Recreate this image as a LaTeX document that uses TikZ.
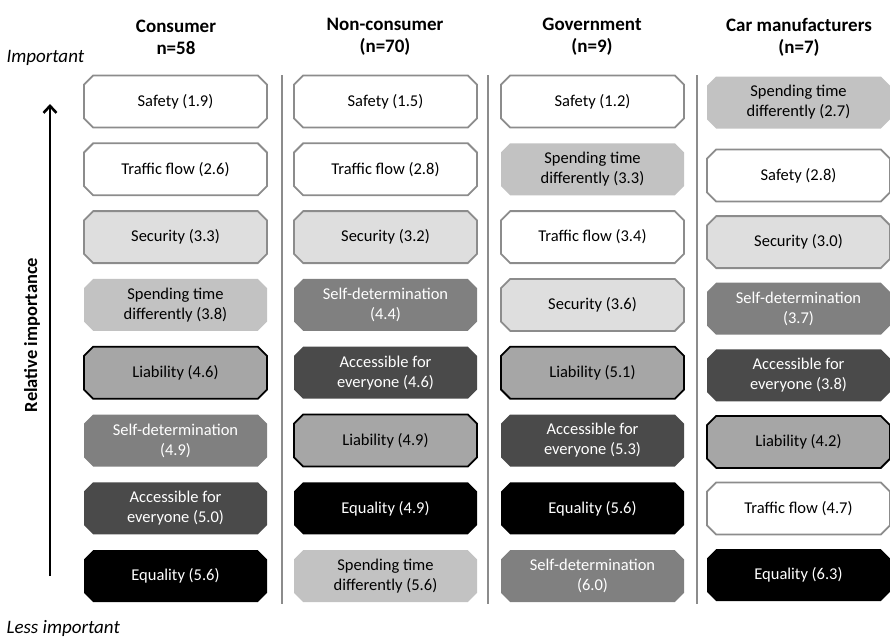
\documentclass[tikz,border=0pt]{standalone}
\usepackage{fontspec}
\setmainfont{Carlito}
\usetikzlibrary{positioning,shapes.misc,arrows.meta}
\definecolor{rule gray}{HTML}{8C8C8C}
\tikzset{
  value box/.style={
    chamfered rectangle,
    chamfered rectangle xsep=6pt,
    minimum width=183pt,
    minimum height=52pt,
    inner sep=1pt,
    outer sep=0pt,
    align=center,
    line width=1.8pt,
    font=\fontsize{16.5}{20}\selectfont,
  },
  open box/.style={value box, fill=white, draw=rule gray},
  pale box/.style={value box, fill=black!13, draw=rule gray},
  light box/.style={value box, fill=black!24},
  framed box/.style={value box, fill=black!35, draw=black},
  mid box/.style={value box, fill=black!50, text=white},
  dark box/.style={value box, fill=black!71, text=white},
  black box/.style={value box, fill=black, text=white},
  header/.style={
    align=center,
    font=\bfseries\fontsize{19}{22}\selectfont,
  },
  end label/.style={
    anchor=west,
    font=\itshape\fontsize{19}{22}\selectfont,
  }
}

\begin{document}
\begin{tikzpicture}[x=1pt, y=-1pt, node distance=15.8pt]
        \useasboundingbox (0,0) rectangle (890,638);

        \node [header] (hc) at (176,37) {Consumer\\n=58};
        \node [header] (hn) at (385,37) {Non-consumer\\(n=70)};
        \node [header] (hg) at (592,37) {Government\\(n=9)};
        \node [header] (hm) at (799,37) {Car manufacturers\\(n=7)};

        \node [open box] (c1) at (175.5,101.5) {Safety (1.9)};
        \node [open box, below=of c1] (c2) {Traffic flow (2.6)};
        \node [pale box, below=of c2] (c3) {Security (3.3)};
        \node [light box, below=of c3] (c4) {Spending time\\differently (3.8)};
        \node [framed box, below=of c4] (c5) {Liability (4.6)};
        \node [mid box, below=of c5] (c6) {Self-determination\\(4.9)};
        \node [dark box, below=of c6] (c7) {Accessible for\\everyone (5.0)};
        \node [black box, below=of c7] (c8) {Equality (5.6)};

        \node [open box] (n1) at (385.5,101.5) {Safety (1.5)};
        \node [open box, below=of n1] (n2) {Traffic flow (2.8)};
        \node [pale box, below=of n2] (n3) {Security (3.2)};
        \node [mid box, below=of n3] (n4) {Self-determination\\(4.4)};
        \node [dark box, below=of n4] (n5) {Accessible for\\everyone (4.6)};
        \node [framed box, below=of n5] (n6) {Liability (4.9)};
        \node [black box, below=of n6] (n7) {Equality (4.9)};
        \node [light box, below=of n7] (n8) {Spending time\\differently (5.6)};

        \node [open box] (g1) at (592.5,101.5) {Safety (1.2)};
        \node [light box, below=of g1] (g2) {Spending time\\differently (3.3)};
        \node [open box, below=of g2] (g3) {Traffic flow (3.4)};
        \node [pale box, below=of g3] (g4) {Security (3.6)};
        \node [framed box, below=of g4] (g5) {Liability (5.1)};
        \node [dark box, below=of g5] (g6) {Accessible for\\everyone (5.3)};
        \node [black box, below=of g6] (g7) {Equality (5.6)};
        \node [mid box, below=of g7] (g8) {Self-determination\\(6.0)};

        \node [light box] (m1) at (798.5,102.5) {Spending time\\differently (2.7)};
        \node [open box, below=21pt of m1] (m2) {Safety (2.8)};
        \node [pale box, below=14.6pt of m2] (m3) {Security (3.0)};
        \node [mid box, below=14.6pt of m3] (m4) {Self-determination\\(3.7)};
        \node [dark box, below=14.6pt of m4] (m5) {Accessible for\\everyone (3.8)};
        \node [framed box, below=14.6pt of m5] (m6) {Liability (4.2)};
        \node [open box, below=14.6pt of m6] (m7) {Traffic flow (4.7)};
        \node [black box, below=14.6pt of m7] (m8) {Equality (6.3)};

        % column rules
        \draw [rule gray, line width=1.2pt] (282,75) -- (282,604);
        \draw [rule gray, line width=1.2pt] (488,75) -- (488,604);
        \draw [rule gray, line width=1.2pt] (697,75) -- (697,604);

        \node [end label] (top) at (3,58) {Important};
        \node [end label] (bottom) at (3,628) {Less important};
        \node [rotate=90, font=\bfseries\fontsize{18.5}{22}\selectfont] (axis) at (32,335) {Relative importance};

        \coordinate (low) at (50,576);
        \coordinate (high) at (50,104);
        \draw [line width=2.6pt, -{Straight Barb[length=7pt,width=13pt]}] (low) -- (high);
      \end{tikzpicture}
\end{document}
